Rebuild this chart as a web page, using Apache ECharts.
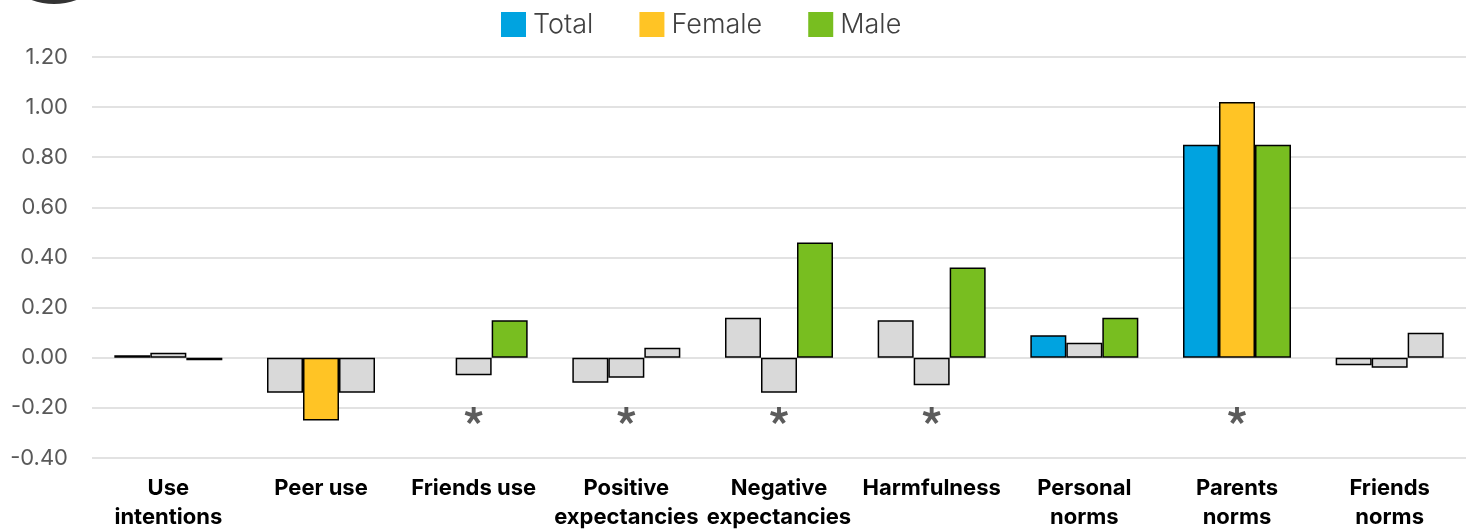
<!DOCTYPE html>
<html>
<head>
<meta charset="utf-8">
<script src="https://cdn.jsdelivr.net/npm/echarts@6/dist/echarts.min.js"></script>
<style>
html,body{margin:0;padding:0;background:#fff;}
#chart{width:1473px;height:529px;}
</style>
</head>
<body>
<div id="chart"></div>
<script>
const categories = ['Use\nintentions','Peer use','Friends use','Positive\nexpectancies','Negative\nexpectancies','Harmfulness','Personal\nnorms','Parents\nnorms','Friends\nnorms'];
const totalValues  = [0.01, -0.14, null, -0.10, 0.16, 0.15, 0.09, 0.85, -0.03];
const femaleValues = [0.02, -0.25, -0.07, -0.08, -0.14, -0.11, 0.06, 1.02, -0.04];
const maleValues   = [-0.01, -0.14, 0.15, 0.04, 0.46, 0.36, 0.16, 0.85, 0.10];
const totalSig  = [false,false,false,false,false,false,true,true,false];
const femaleSig = [false,true,false,false,false,false,false,true,false];
const maleSig   = [false,false,true,false,true,true,true,true,false];
const starCategories = ['Friends use','Positive\nexpectancies','Negative\nexpectancies','Harmfulness','Parents\nnorms'];
const starLevel = -0.23;
const yTicks = {min:-0.4, max:1.2, interval:0.2};

const colors = {Total:'#00A3E0', Female:'#FFC425', Male:'#78BE20', ns:'#D9D9D9'};
function build(vals, sig, col){
  return vals.map((v,i)=>({value: v, itemStyle:{color: sig[i] ? col : colors.ns}}));
}
// five-armed asterisk glyph as a symbol path
function asteriskPath(){
  const L = 50, w = 11, cx = 50, cy = 50;
  let d = '';
  for (let k = 0; k < 5; k++){
    const a = k * 2 * Math.PI / 5;
    const dx = Math.sin(a), dy = -Math.cos(a);
    const px = Math.cos(a), py = Math.sin(a);
    const pts = [
      [cx + w*px, cy + w*py],
      [cx + L*dx + w*px, cy + L*dy + w*py],
      [cx + L*dx - w*px, cy + L*dy - w*py],
      [cx - w*px, cy - w*py]
    ];
    d += 'M' + pts.map(p => p[0].toFixed(2) + ' ' + p[1].toFixed(2)).join(' L') + ' Z ';
  }
  return 'path://' + d;
}
const chart = echarts.init(document.getElementById('chart'));
const barStyle = {borderColor:'#000', borderWidth:1.5};
chart.setOption({
  animation:false,
  textStyle:{fontFamily:'Inter'},
  graphic:[{type:'circle', shape:{cx:54, cy:-61, r:65}, style:{fill:'#333'}}],
  legend:{
    data:[{name:'Total',itemStyle:{color:colors.Total, borderWidth:0}},{name:'Female',itemStyle:{color:colors.Female, borderWidth:0}},{name:'Male',itemStyle:{color:colors.Male, borderWidth:0}}],
    left:496, top:6, itemWidth:25, itemHeight:25, itemGap:46,
    icon:'rect',
    textStyle:{fontSize:27, color:'#404040', fontFamily:'Inter', fontWeight:300, padding:[0,0,0,2]}
  },
  grid:{left:92, right:7, top:57, bottom:71, outerBoundsMode:'none', containLabel:false},
  xAxis:{
    type:'category', data:categories,
    axisLine:{show:false}, axisTick:{show:false},
    axisLabel:{interval:0, margin:16, fontSize:22, fontWeight:'bold', color:'#000', lineHeight:29, fontFamily:'Inter'}
  },
  yAxis:{
    type:'value', min:yTicks.min, max:yTicks.max, interval:yTicks.interval,
    axisLine:{show:false}, axisTick:{show:false},
    axisLabel:{formatter:v=>v.toFixed(2), fontSize:22, color:'#595959', margin:24, fontFamily:'Inter'},
    splitLine:{lineStyle:{color:'#D9D9D9', width:1.5}}
  },
  series:[
    {name:'Total', type:'bar', barWidth:36, barGap:'0%', data:build(totalValues,totalSig,colors.Total), itemStyle:barStyle},
    {name:'Female', type:'bar', barWidth:36, barGap:'0%', data:build(femaleValues,femaleSig,colors.Female), itemStyle:barStyle},
    {name:'Male', type:'bar', barWidth:36, barGap:'0%', data:build(maleValues,maleSig,colors.Male), itemStyle:barStyle},
    {name:'sig', type:'scatter', symbol:asteriskPath(), symbolSize:[18,17], itemStyle:{color:'#333'},
     data:starCategories.map(c=>[c, starLevel])}
  ]
});
</script>
</body>
</html>
